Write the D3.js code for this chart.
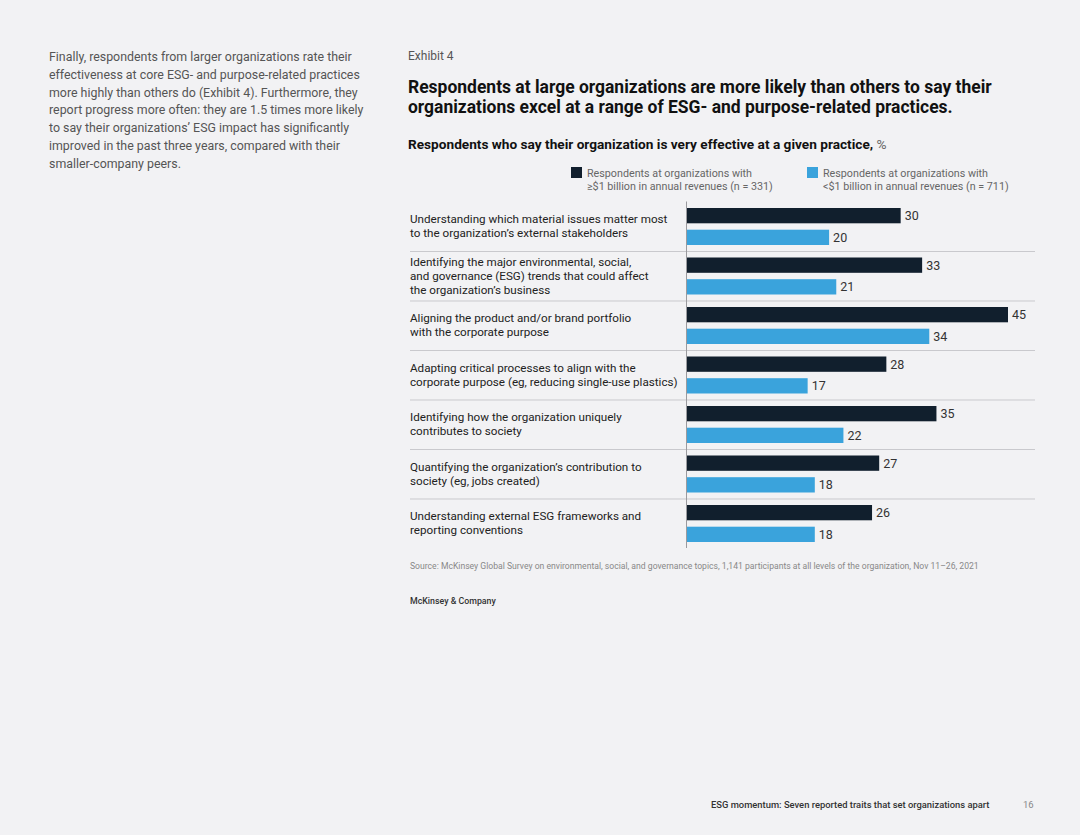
<!DOCTYPE html>
<html>
<head>
<meta charset="utf-8">
<script src="https://cdn.jsdelivr.net/npm/d3@7"></script>
<style>
  body { margin: 0; background: #f2f2f4; }
  svg { display: block; font-family: Roboto, "Liberation Sans", sans-serif; }
</style>
</head>
<body>
<svg id="chart"></svg>
<script>
const practices = [
  ["Understanding which material issues matter most", "to the organization’s external stakeholders"],
  ["Identifying the major environmental, social,", "and governance (ESG) trends that could affect", "the organization’s business"],
  ["Aligning the product and/or brand portfolio", "with the corporate purpose"],
  ["Adapting critical processes to align with the", "corporate purpose (eg, reducing single-use plastics)"],
  ["Identifying how the organization uniquely", "contributes to society"],
  ["Quantifying the organization’s contribution to", "society (eg, jobs created)"],
  ["Understanding external ESG frameworks and", "reporting conventions"]
];
const largeOrgs = [30, 33, 45, 28, 35, 27, 26];
const smallOrgs = [20, 21, 34, 17, 22, 18, 18];
const seriesKeys = ["large", "small"];
const seriesColors = ["#111f2d", "#3aa3dc"];
const legendText = [
  ["Respondents at organizations with", "≥$1 billion in annual revenues (n = 331)"],
  ["Respondents at organizations with", "<$1 billion in annual revenues (n = 711)"]
];

const introText = [
  "Finally, respondents from larger organizations rate their",
  "effectiveness at core ESG- and purpose-related practices",
  "more highly than others do (Exhibit 4). Furthermore, they",
  "report progress more often: they are 1.5 times more likely",
  "to say their organizations’ ESG impact has significantly",
  "improved in the past three years, compared with their",
  "smaller-company peers."
];
const titleText = [
  "Respondents at large organizations are more likely than others to say their",
  "organizations excel at a range of ESG- and purpose-related practices."
];
const subtitleText = "Respondents who say their organization is very effective at a given practice, ";
const sourceText = "Source: McKinsey Global Survey on environmental, social, and governance topics, 1,141 participants at all levels of the organization, Nov 11–26, 2021";
const footerText = "ESG momentum: Seven reported traits that set organizations apart";

const rows = practices.map((p, i) => ({ label: p, large: largeOrgs[i], small: smallOrgs[i] }));

const width = 1080, height = 835;
const svg = d3.select('#chart').attr('width', width).attr('height', height);

// scale a block of text lines so that one reference line spans the given width
function fitBlock(sel, refIndex, target) {
  const nodes = sel.nodes();
  const w = nodes[refIndex].getComputedTextLength();
  const fs = parseFloat(d3.select(nodes[0]).attr('font-size'));
  sel.attr('font-size', fs * target / w);
}

// left paragraph
const intro = svg.append('g').selectAll('text')
  .data(introText)
  .join('text')
  .attr('x', 49)
  .attr('y', (d, i) => 57 + i * 17.7)
  .attr('dy', '0.35em')
  .attr('font-size', 12.5)
  .attr('fill', '#555')
  .text(d => d);
fitBlock(intro, 1, 311);

svg.append('text')
  .attr('x', 408).attr('y', 56).attr('dy', '0.35em')
  .attr('font-size', 12).attr('fill', '#555')
  .text('Exhibit 4');

const title = svg.append('g').selectAll('text')
  .data(titleText)
  .join('text')
  .attr('x', 408)
  .attr('y', (d, i) => 87 + i * 20)
  .attr('dy', '0.35em')
  .attr('font-size', 17)
  .attr('font-weight', 700)
  .attr('fill', '#111')
  .text(d => d);
fitBlock(title, 0, 584);

const sub = svg.append('text')
  .attr('x', 408).attr('y', 144).attr('dy', '0.35em')
  .attr('font-size', 12.5).attr('fill', '#111');
sub.append('tspan').attr('font-weight', 700).text(subtitleText);
sub.append('tspan').attr('fill', '#666').text('%');
fitBlock(sub, 0, 479);

// legend
const legendX = [571, 807];
const legend = svg.append('g').selectAll('g')
  .data(seriesKeys)
  .join('g')
  .attr('transform', (d, i) => `translate(${legendX[i]},167)`);
legend.append('rect')
  .attr('width', 11).attr('height', 11)
  .attr('fill', (d, i) => seriesColors[i]);
const legendLines = legend.selectAll('text')
  .data((d, i) => legendText[i])
  .join('text')
  .attr('x', 16)
  .attr('y', (d, i) => 6 + i * 13)
  .attr('dy', '0.35em')
  .attr('font-size', 11)
  .attr('fill', '#666')
  .text(d => d);
fitBlock(legendLines, 1, 186);

// chart
const x = d3.scaleLinear().domain([0, 45]).range([686, 1008]);
const y = d3.scaleBand().domain(d3.range(rows.length)).range([201.5, 548]);
const yInner = d3.scaleBand().domain(seriesKeys).range([6.5, 43.5]).paddingInner(0.295);
const color = d3.scaleOrdinal().domain(seriesKeys).range(seriesColors);

// separators
svg.append('g').selectAll('line')
  .data(d3.range(1, rows.length))
  .join('line')
  .attr('x1', 410).attr('x2', 1035)
  .attr('y1', d => y(d) + 0.5).attr('y2', d => y(d) + 0.5)
  .attr('stroke', '#c9c9cd').attr('stroke-width', 1);

const groups = svg.append('g').selectAll('g')
  .data(rows)
  .join('g')
  .attr('transform', (d, i) => `translate(0,${y(i)})`);

groups.selectAll('rect')
  .data(d => seriesKeys.map(k => ({ key: k, value: d[k] })))
  .join('rect')
  .attr('x', x(0))
  .attr('y', d => yInner(d.key))
  .attr('width', d => x(d.value) - x(0))
  .attr('height', yInner.bandwidth())
  .attr('fill', d => color(d.key));

groups.selectAll('text.val')
  .data(d => seriesKeys.map(k => ({ key: k, value: d[k] })))
  .join('text')
  .attr('class', 'val')
  .attr('x', d => x(d.value) + 4)
  .attr('y', d => yInner(d.key) + yInner.bandwidth() / 2)
  .attr('dy', '0.35em')
  .attr('font-size', 12.5)
  .attr('fill', '#333')
  .text(d => d.value);

const lh = 14.3;
const catLabels = groups.selectAll('text.cat')
  .data(d => d.label)
  .join('text')
  .attr('class', 'cat')
  .attr('x', 410)
  .attr('y', (d, i, n) => y.bandwidth() / 2 + (i - (n.length - 1) / 2) * lh)
  .attr('dy', '0.35em')
  .attr('font-size', 12)
  .attr('fill', '#222')
  .text(d => d);
// reference line: "corporate purpose (eg, reducing single-use plastics)"
const refNode = catLabels.filter(d => d.startsWith('corporate purpose (eg'));
const catSize = 12 * 268 / refNode.node().getComputedTextLength();
catLabels.attr('font-size', catSize);

// axis line
svg.append('line')
  .attr('x1', x(0) + 0.5).attr('x2', x(0) + 0.5)
  .attr('y1', 201.5).attr('y2', 548)
  .attr('stroke', '#9a9a9e').attr('stroke-width', 1);

// source and footer
const src = svg.append('text')
  .attr('x', 410).attr('y', 566).attr('dy', '0.35em')
  .attr('font-size', 9.5).attr('fill', '#888')
  .text(sourceText);
fitBlock(src, 0, 569);

const mck = svg.append('text')
  .attr('x', 410).attr('y', 601).attr('dy', '0.35em')
  .attr('font-size', 9.5).attr('font-weight', 500).attr('fill', '#333')
  .text('McKinsey & Company');
fitBlock(mck, 0, 86);

const foot = svg.append('text')
  .attr('x', 711).attr('y', 805).attr('dy', '0.35em')
  .attr('font-size', 9.5).attr('font-weight', 500).attr('fill', '#333')
  .text(footerText);
fitBlock(foot, 0, 279);

svg.append('text')
  .attr('x', 1023).attr('y', 805).attr('dy', '0.35em')
  .attr('font-size', 9.5).attr('fill', '#888')
  .text('16');
</script>
</body>
</html>
